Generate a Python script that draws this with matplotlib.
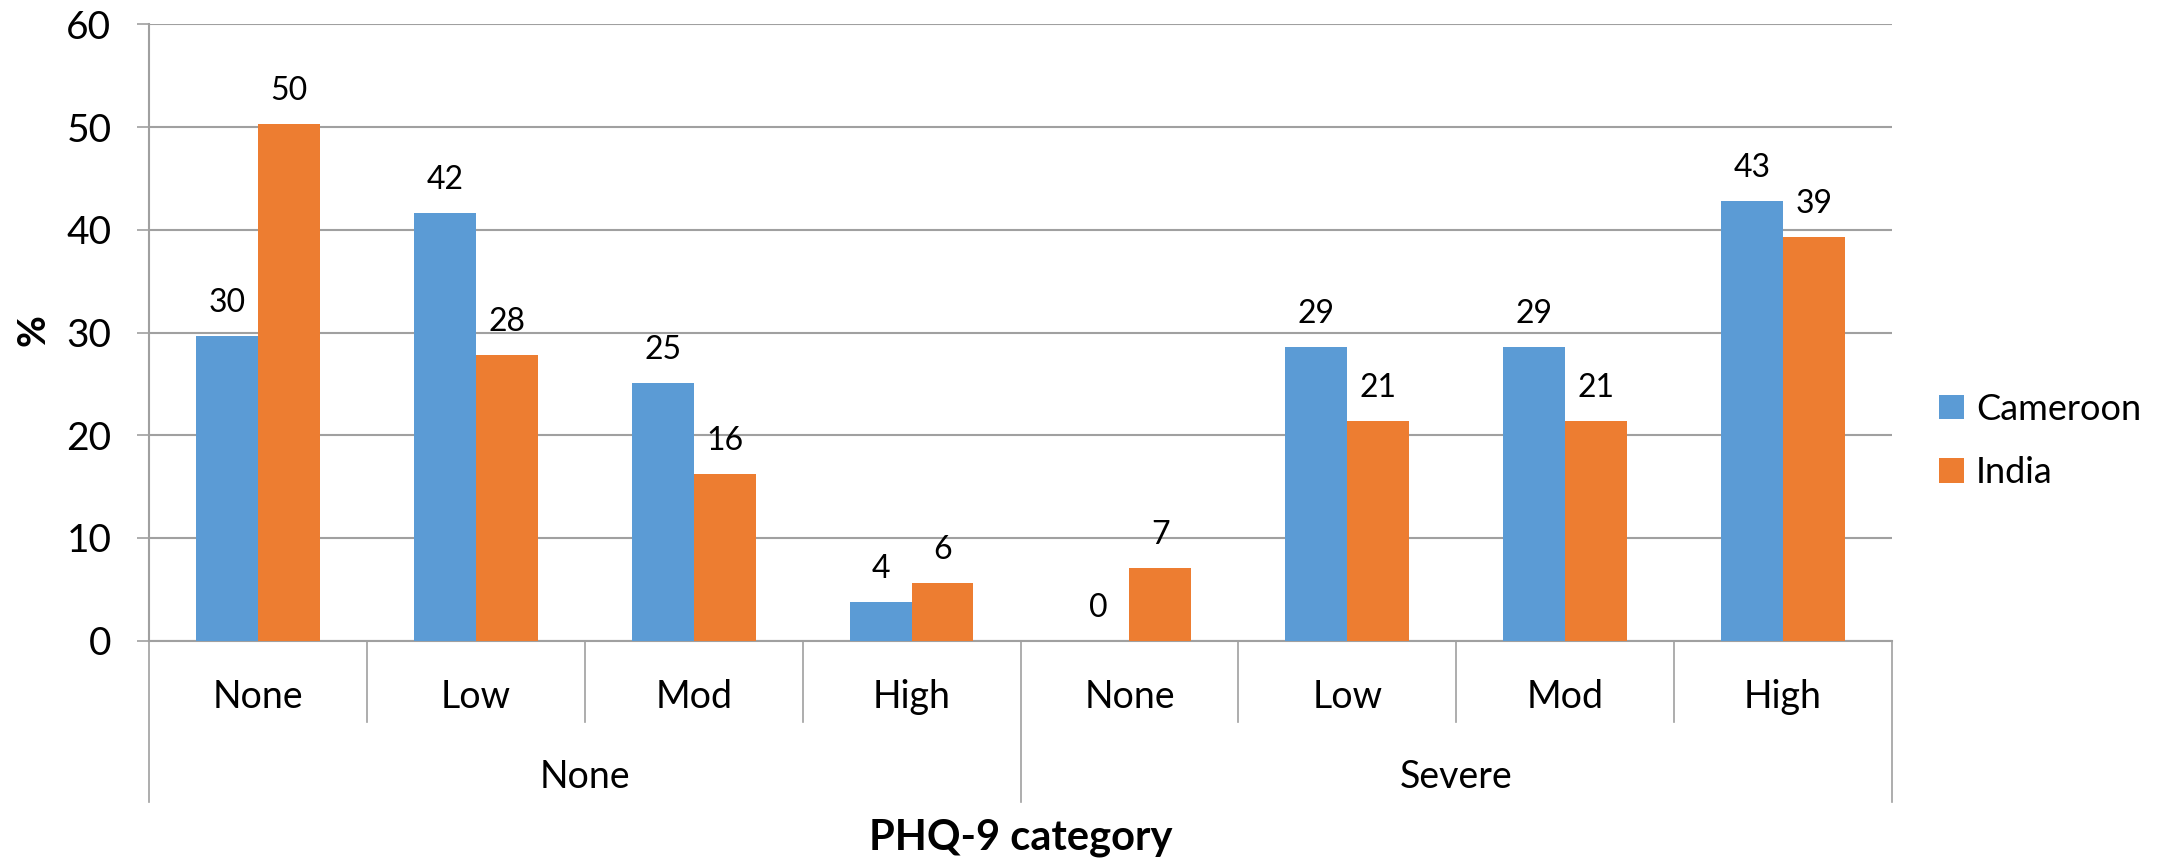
import matplotlib
matplotlib.use("Agg")
import matplotlib.pyplot as plt
import matplotlib.transforms as mtransforms
from matplotlib.patches import Patch

plt.rcParams['font.family'] = ['Lato', 'DejaVu Sans']

inner_labels = ["None", "Low", "Mod", "High", "None", "Low", "Mod", "High"]
outer_labels = ["None", "Severe"]
series_names = ["Cameroon", "India"]
cameroon = [29.7, 41.6, 25.1, 3.8, 0.0, 28.6, 28.6, 42.8]
india = [50.3, 27.8, 16.2, 5.6, 7.1, 21.4, 21.4, 39.3]
colors = ["#5B9BD5", "#ED7D31"]
yticks = [0, 10, 20, 30, 40, 50, 60]

W, H = 2178, 863
fig = plt.figure(figsize=(W / 100, H / 100), dpi=100)
left, right, top, bottom = 149, 1892, 24.5, 640.6
ax = fig.add_axes([left / W, 1 - bottom / H, (right - left) / W, (bottom - top) / H])

n = len(inner_labels)
xs = list(range(n))
bw = 0.284
grid_c = "#a0a0a0"

ax.bar([x - bw / 2 for x in xs], cameroon, width=bw, color=colors[0], zorder=3)
ax.bar([x + bw / 2 for x in xs], india, width=bw, color=colors[1], zorder=3)

for x, v in zip(xs, cameroon):
    ax.annotate(f"{v:.0f}", (x - bw / 2, v), xytext=(0, 13), textcoords="offset points",
                ha="center", va="bottom", fontsize=23)
for x, v in zip(xs, india):
    ax.annotate(f"{v:.0f}", (x + bw / 2, v), xytext=(0, 13), textcoords="offset points",
                ha="center", va="bottom", fontsize=23)

ax.set_xlim(-0.5, n - 0.5)
ax.set_ylim(0, 60)
ax.set_yticks(yticks)
ax.yaxis.grid(True, color=grid_c, linewidth=1.5, zorder=0)
ax.set_axisbelow(True)
ax.tick_params(axis="y", length=9, width=1.2, color=grid_c, pad=18, labelsize=28)
ax.tick_params(axis="x", length=0, labelbottom=False)
for s in ["top", "right"]:
    ax.spines[s].set_visible(False)
for s in ["left", "bottom"]:
    ax.spines[s].set_color(grid_c)
    ax.spines[s].set_linewidth(1.5)

trans = mtransforms.blended_transform_factory(ax.transData, ax.transAxes)
axh = bottom - top
inner_bot = -(721.7 - bottom) / axh
outer_bot = -(802 - bottom) / axh
for i in range(n + 1):
    xb = i - 0.5
    yb = outer_bot if i in (0, 4, 8) else inner_bot
    ax.plot([xb, xb], [0, yb], transform=trans, color=grid_c, linewidth=1.2, clip_on=False)

for x, lab in zip(xs, inner_labels):
    ax.text(x, -(697 - bottom) / axh, lab, transform=trans, ha="center", va="center", fontsize=27)
for k, lab in enumerate(outer_labels):
    ax.text(4 * k + 1.5, -(777 - bottom) / axh, lab, transform=trans, ha="center", va="center", fontsize=27)

ax.text(0.5, -(838 - bottom) / axh, "PHQ-9 category", transform=ax.transAxes,
        ha="center", va="center", fontsize=30, fontweight="bold")
fig.text(33.5 / W, 1 - 330 / H, "%", rotation=90, ha="center", va="center",
         fontsize=28, fontweight="bold")

handles = [Patch(facecolor=c, edgecolor="none") for c in colors]
fig.legend(handles, series_names, loc="center left", bbox_to_anchor=(1939 / W, 1 - 441 / H),
           bbox_transform=fig.transFigure, frameon=False, fontsize=26, borderpad=0,
           handlelength=0.68, handleheight=0.68, handletextpad=0.35, labelspacing=0.85,
           borderaxespad=0)

fig.savefig("out.png", dpi=100)
